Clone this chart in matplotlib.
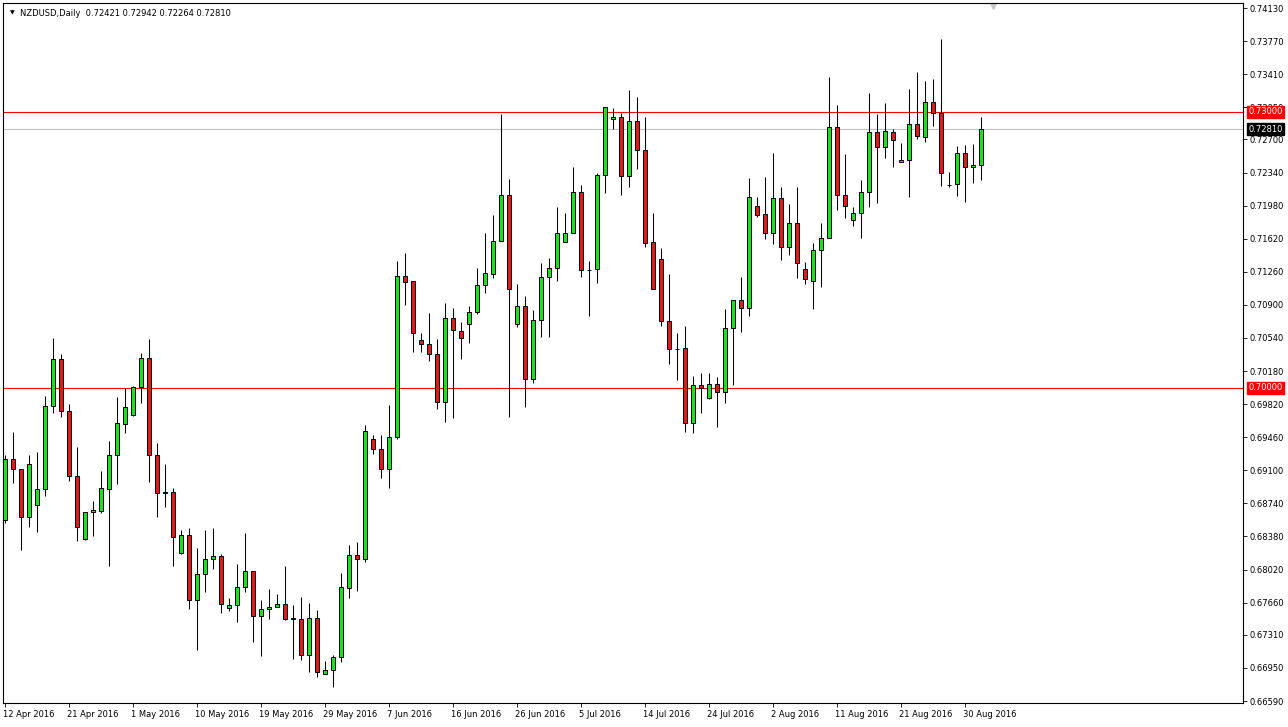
import matplotlib
matplotlib.use("Agg")
import numpy as np
import matplotlib.pyplot as plt
from matplotlib import transforms

# NZDUSD daily candles, 12 Apr 2016 .. 1 Sep 2016
opens = [
    0.68559, 0.69223, 0.69114, 0.68592, 0.68723, 0.68897, 0.69800, 0.70311, 0.69745, 0.69038,
    0.68353, 0.68646, 0.68657, 0.68897, 0.69267, 0.69604, 0.69702, 0.70006, 0.70322, 0.69267,
    0.68853, 0.68864, 0.68200, 0.68396, 0.67689, 0.67972, 0.68135, 0.68168, 0.67602, 0.67635,
    0.67830, 0.68005, 0.67515, 0.67591, 0.67613, 0.67645, 0.67488, 0.67482, 0.67091, 0.67493,
    0.66884, 0.66927, 0.67069, 0.67820, 0.68179, 0.68135, 0.69441, 0.69332, 0.69114, 0.69462,
    0.71214, 0.71160, 0.70518, 0.70474, 0.70365, 0.69843, 0.70757, 0.70616, 0.70692, 0.70822,
    0.71116, 0.71236, 0.71595, 0.72095, 0.70692, 0.70888, 0.70093, 0.70735, 0.71203, 0.71301,
    0.71584, 0.71682, 0.72128, 0.71281, 0.71290, 0.72313, 0.72922, 0.72944, 0.72302, 0.72901,
    0.72585, 0.71584, 0.71399, 0.70725, 0.70422, 0.70431, 0.69615, 0.70028, 0.69887, 0.70039,
    0.69952, 0.70648, 0.70953, 0.70866, 0.71976, 0.71889, 0.71682, 0.72063, 0.71530, 0.71791,
    0.71290, 0.71160, 0.71497, 0.71628, 0.72835, 0.72095, 0.71823, 0.71900, 0.72128, 0.72781,
    0.72618, 0.72781, 0.72454, 0.72476, 0.72868, 0.72726, 0.73107, 0.72988, 0.72206, 0.72215,
    0.72552, 0.72400, 0.72421,
]
highs = [
    0.69267, 0.69517, 0.69114, 0.69267, 0.69299, 0.69909, 0.70540, 0.70365, 0.69821, 0.69354,
    0.68646, 0.68766, 0.69093, 0.69419, 0.69898, 0.69996, 0.70017, 0.70376, 0.70529, 0.69397,
    0.69169, 0.68908, 0.68451, 0.68472, 0.68255, 0.68451, 0.68472, 0.68189, 0.67711, 0.68081,
    0.68418, 0.68005, 0.67689, 0.67809, 0.67754, 0.68059, 0.67635, 0.67722, 0.67656, 0.67580,
    0.67025, 0.67091, 0.67983, 0.68287, 0.68320, 0.69593, 0.69484, 0.69484, 0.69811, 0.71377,
    0.71464, 0.71160, 0.70594, 0.70812, 0.70529, 0.70920, 0.70866, 0.70714, 0.70888, 0.71301,
    0.71682, 0.71878, 0.72977, 0.72269, 0.71127, 0.70997, 0.70844, 0.71356, 0.71410, 0.71965,
    0.71900, 0.72400, 0.72204, 0.71377, 0.72335, 0.73053, 0.73042, 0.72988, 0.73238, 0.73162,
    0.72944, 0.71900, 0.71519, 0.71236, 0.70594, 0.70670, 0.70126, 0.70159, 0.70159, 0.70115,
    0.70855, 0.70953, 0.71203, 0.72280, 0.72074, 0.72291, 0.72552, 0.72182, 0.71997, 0.72182,
    0.71366, 0.71573, 0.71791, 0.73379, 0.73075, 0.72541, 0.71965, 0.72259, 0.73205, 0.72977,
    0.73096, 0.72813, 0.72661, 0.73249, 0.73434, 0.73336, 0.73357, 0.73793, 0.72346, 0.72629,
    0.72639, 0.72650, 0.72942,
]
lows = [
    0.68527, 0.68962, 0.68233, 0.68483, 0.68429, 0.68821, 0.69724, 0.69680, 0.68984, 0.68331,
    0.68342, 0.68385, 0.68636, 0.68059, 0.68951, 0.69506, 0.69691, 0.69832, 0.68973, 0.68592,
    0.68701, 0.68059, 0.68189, 0.67591, 0.67145, 0.67776, 0.68026, 0.67548, 0.67569, 0.67450,
    0.67776, 0.67232, 0.67080, 0.67482, 0.67613, 0.67471, 0.67047, 0.67036, 0.66906, 0.66851,
    0.66884, 0.66742, 0.67014, 0.67711, 0.67787, 0.68102, 0.69277, 0.69016, 0.68908, 0.69441,
    0.70899, 0.70387, 0.70387, 0.70289, 0.69767, 0.69626, 0.69669, 0.70311, 0.70485, 0.70801,
    0.71029, 0.71192, 0.71595, 0.69680, 0.70659, 0.69789, 0.70050, 0.70550, 0.70550, 0.71160,
    0.71584, 0.71682, 0.71203, 0.70779, 0.71138, 0.72117, 0.72813, 0.72095, 0.72182, 0.72378,
    0.71530, 0.71073, 0.70670, 0.70257, 0.70083, 0.69517, 0.69506, 0.69724, 0.69876, 0.69571,
    0.69832, 0.70028, 0.70605, 0.70779, 0.71856, 0.71617, 0.71562, 0.71388, 0.71443, 0.71192,
    0.71127, 0.70855, 0.71094, 0.71628, 0.71932, 0.71845, 0.71758, 0.71628, 0.71965, 0.72008,
    0.72498, 0.72400, 0.72454, 0.72074, 0.72705, 0.72672, 0.72846, 0.72193, 0.72182, 0.72085,
    0.72019, 0.72226, 0.72264,
]
closes = [
    0.69223, 0.69114, 0.68592, 0.69169, 0.68897, 0.69800, 0.70311, 0.69745, 0.69038, 0.68483,
    0.68646, 0.68668, 0.68908, 0.69267, 0.69615, 0.69789, 0.70006, 0.70322, 0.69267, 0.68853,
    0.68864, 0.68374, 0.68396, 0.67689, 0.67972, 0.68135, 0.68168, 0.67645, 0.67635, 0.67830,
    0.68005, 0.67515, 0.67591, 0.67613, 0.67645, 0.67482, 0.67485, 0.67091, 0.67493, 0.66906,
    0.66927, 0.67069, 0.67830, 0.68179, 0.68135, 0.69528, 0.69332, 0.69114, 0.69462, 0.71214,
    0.71149, 0.70594, 0.70474, 0.70365, 0.69843, 0.70757, 0.70627, 0.70540, 0.70822, 0.71116,
    0.71247, 0.71595, 0.72095, 0.71073, 0.70888, 0.70093, 0.70735, 0.71203, 0.71301, 0.71682,
    0.71682, 0.72128, 0.71279, 0.71279, 0.72313, 0.73053, 0.72944, 0.72302, 0.72901, 0.72585,
    0.71573, 0.71073, 0.70725, 0.70420, 0.70420, 0.69615, 0.70028, 0.69996, 0.70039, 0.69952,
    0.70648, 0.70953, 0.70866, 0.72074, 0.71878, 0.71682, 0.72063, 0.71530, 0.71791, 0.71356,
    0.71181, 0.71497, 0.71628, 0.72835, 0.72095, 0.71976, 0.71900, 0.72128, 0.72781, 0.72618,
    0.72792, 0.72694, 0.72476, 0.72868, 0.72737, 0.73107, 0.72988, 0.72335, 0.72204, 0.72552,
    0.72400, 0.72422, 0.72810,
]

date_labels = ["12 Apr 2016", "21 Apr 2016", "1 May 2016", "10 May 2016", "19 May 2016",
               "29 May 2016", "7 Jun 2016", "16 Jun 2016", "26 Jun 2016", "5 Jul 2016",
               "14 Jul 2016", "24 Jul 2016", "2 Aug 2016", "11 Aug 2016", "21 Aug 2016",
               "30 Aug 2016"]
bars_per_label = 8

price_labels = ["0.74130", "0.73770", "0.73410", "0.73050", "0.72700", "0.72340", "0.71980",
                "0.71620", "0.71260", "0.70900", "0.70540", "0.70180", "0.69820", "0.69460",
                "0.69100", "0.68740", "0.68380", "0.68020", "0.67660", "0.67310", "0.66950",
                "0.66590"]

levels = [0.73000, 0.70000]
last_price = closes[-1]
title = "NZDUSD,Daily  0.72421 0.72942 0.72264 0.72810"

n = len(closes)
assert len(opens) == len(highs) == len(lows) == n

W, H = 1288, 727
fig = plt.figure(figsize=(W / 100, H / 100), dpi=100)
fig.patch.set_facecolor("white")
ax = fig.add_axes([3 / W, 24 / H, 1240 / W, 700 / H])

x = np.arange(n)
o = np.array(opens)
c = np.array(closes)
up = c >= o

# wicks
ax.vlines(x, lows, highs, color="black", linewidth=0.75, zorder=2)
# bodies
body_h = np.maximum(np.abs(c - o), 0.00002)
ax.bar(x, body_h, bottom=np.minimum(o, c), width=0.6,
       color=np.where(up, "#1ee01e", "#e01a1a"),
       edgecolor="black", linewidth=0.7, zorder=3)

for lv in levels:
    ax.axhline(lv, color="#ff0000", linewidth=0.8, zorder=1)
ax.axhline(last_price, color="#c0c0c0", linewidth=0.8, zorder=1)

ax.set_xlim(-0.25, 154.75)
ax.set_ylim(0.665684, 0.741844)

# price axis on the right
ax.yaxis.tick_right()
ax.set_yticks([float(s) for s in price_labels])
ax.set_yticklabels(price_labels)
ax.tick_params(axis="y", direction="out", length=3, width=0.6, pad=2, labelsize=6)

# date axis
xt = np.arange(len(date_labels)) * bars_per_label
ax.set_xticks(xt)
ax.set_xticklabels(date_labels, ha="left")
ax.tick_params(axis="x", direction="out", length=3, width=0.6, pad=2, labelsize=6)
for lbl in ax.get_xticklabels():
    lbl.set_transform(lbl.get_transform() + transforms.ScaledTranslation(-2 / 100, 0, fig.dpi_scale_trans))

for sp in ax.spines.values():
    sp.set_color("black")
    sp.set_linewidth(0.8)

# price tags on the right axis (they cover the grid label under them, as in the terminal)
tr = transforms.blended_transform_factory(ax.transAxes, ax.transData)
for lv in levels:
    ax.text(1.0045, lv, "%.5f" % lv, transform=tr, fontsize=6, color="white",
            va="center", ha="left", zorder=5,
            bbox=dict(boxstyle="square,pad=0.18", fc="#ff0000", ec="#ff0000"))
ax.text(1.0045, last_price, "%.5f" % last_price, transform=tr, fontsize=6, color="white",
        va="center", ha="left", zorder=5,
        bbox=dict(boxstyle="square,pad=0.18", fc="black", ec="black"))

# symbol header
fig.text(10 / W, 1 - 13 / H, "\u25bc", fontsize=4.5, va="center", ha="left")
fig.text(20 / W, 1 - 13 / H, title, fontsize=6.05, va="center", ha="left")

# chart shift marker
ax.plot([(993 - 3) / 1240], [0.996], marker="v", markersize=5, color="#c8c8c8",
        transform=ax.transAxes, clip_on=False)

fig.savefig("out.png", dpi=100, facecolor="white")
